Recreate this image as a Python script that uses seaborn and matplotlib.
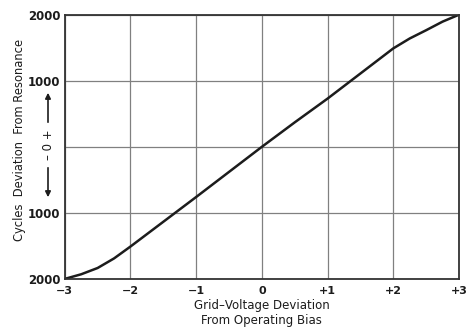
import matplotlib
matplotlib.use("Agg")
import pandas as pd
import matplotlib.pyplot as plt
import seaborn as sns

# Values
grid_voltage = [-3, -2.75, -2.5, -2.25, -2, -1.5, -1, -0.5, 0, 0.5, 1, 1.5, 2, 2.25, 2.5, 2.75, 3]
cycles_dev = [-2000, -1930, -1835, -1690, -1510, -1135, -760, -380, 0, 370, 730, 1110, 1490, 1640, 1765, 1895, 2000]

x_ticks = [-3, -2, -1, 0, 1, 2, 3]
x_labels = ["\u22123", "\u22122", "\u22121", "0", "+1", "+2", "+3"]
y_ticks = [-2000, -1000, 0, 1000, 2000]
y_labels = ["2000", "1000", "", "1000", "2000"]

df = pd.DataFrame({"grid": grid_voltage, "cycles": cycles_dev})

sns.set_style("white")
plt.rcParams["font.family"] = ["DejaVu Sans"]
ink = "#1c1c1c"

fig = plt.figure(figsize=(4.66, 3.34), dpi=100)
ax = fig.add_axes([0.139, 0.165, 0.846, 0.791])

sns.lineplot(data=df, x="grid", y="cycles", ax=ax, color=ink, linewidth=1.8)

ax.set_xlim(-3, 3)
ax.set_ylim(-2000, 2000)
ax.set_xticks(x_ticks)
ax.set_xticklabels(x_labels, fontsize=8, fontweight="bold", color=ink)
ax.set_yticks(y_ticks)
ax.set_yticklabels(y_labels, fontsize=8.5, fontweight="bold", color=ink)
ax.tick_params(length=0, pad=3)
ax.tick_params(axis="x", pad=5)
ax.grid(True, color="#808080", linewidth=0.9)
for s in ax.spines.values():
    s.set_color("#333333")
    s.set_linewidth(1.3)

ax.set_xlabel("Grid\u2013Voltage Deviation\nFrom Operating Bias", fontsize=8.5,
              color=ink, linespacing=1.25, labelpad=2)
ax.set_ylabel("")

# rotated y label plus the +0- marker with arrows
fig.text(20 / 466, 1 - 140 / 334, "Cycles  Deviation  From Resonance", rotation=90,
         ha="center", va="center", fontsize=8.3, color=ink)
fig.text(48 / 466, 1 - 145 / 334, "\u2013 0 +", rotation=90, ha="center", va="center",
         fontsize=8.5, color=ink)
arrow = dict(arrowstyle="-|>", color=ink, lw=1.2, mutation_scale=8)
ax.annotate("", xy=(48 / 466, 1 - 90 / 334), xytext=(48 / 466, 1 - 125 / 334),
            xycoords="figure fraction", textcoords="figure fraction", arrowprops=arrow)
ax.annotate("", xy=(48 / 466, 1 - 200 / 334), xytext=(48 / 466, 1 - 165 / 334),
            xycoords="figure fraction", textcoords="figure fraction", arrowprops=arrow)

fig.savefig("out.png", dpi=100)
plt.close(fig)
